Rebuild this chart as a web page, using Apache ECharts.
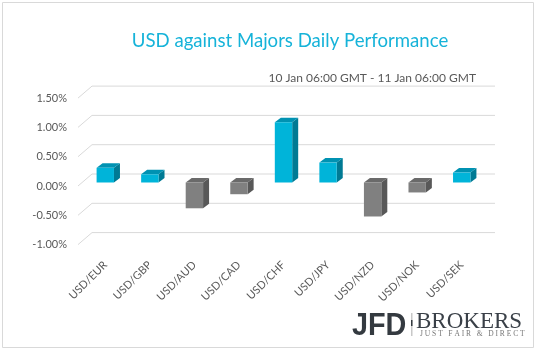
<!DOCTYPE html>
<html>
<head>
<meta charset="utf-8">
<script src="https://cdn.jsdelivr.net/npm/echarts@6/dist/echarts.min.js"></script>
<style>
  html, body { margin: 0; padding: 0; background: #fff; }
  #chart { width: 538px; height: 351px; }
</style>
</head>
<body>
<div id="chart"></div>
<script>
const categories = ["USD/EUR", "USD/GBP", "USD/AUD", "USD/CAD", "USD/CHF", "USD/JPY", "USD/NZD", "USD/NOK", "USD/SEK"];
const values = [0.25, 0.14, -0.44, -0.2, 1.03, 0.34, -0.58, -0.17, 0.17];
const yTicks = [-1, -0.5, 0, 0.5, 1, 1.5];

// 3d look: depth offsets of the bar box and of the back/front walls
const barDx = 6, barDy = -4.5;
const backDx = 9, backDy = -8.5;
const frontDx = -5, frontDy = 3.5;

const up = { front: "#00b4d9", top: "#0092b2", side: "#007a94" };
const down = { front: "#808080", top: "#6a6a6a", side: "#585858" };

const chart = echarts.init(document.getElementById("chart"));

function renderBar(params, api) {
  const i = api.value(0);
  const v = api.value(1);
  const p0 = api.coord([i, 0]);
  const p1 = api.coord([i, v]);
  const w = api.size([1, 0])[0] * 0.39;
  const x0 = p0[0] - w / 2;
  const x1 = p0[0] + w / 2;
  const yTop = Math.min(p0[1], p1[1]);
  const yBot = Math.max(p0[1], p1[1]);
  const c = v >= 0 ? up : down;
  return {
    type: "group",
    children: [
      {
        type: "polygon",
        shape: { points: [[x1, yTop], [x1 + barDx, yTop + barDy], [x1 + barDx, yBot + barDy], [x1, yBot]] },
        style: { fill: c.side },
      },
      {
        type: "polygon",
        shape: { points: [[x0, yTop], [x1, yTop], [x1 + barDx, yTop + barDy], [x0 + barDx, yTop + barDy]] },
        style: { fill: c.top },
      },
      {
        type: "rect",
        shape: { x: x0, y: yTop, width: w, height: yBot - yTop },
        style: { fill: c.front },
      },
    ],
  };
}

// gridline on the back wall, slanted edge on the side wall, tick label on the front
function renderGrid(params, api) {
  const cs = params.coordSys;
  const v = api.value(1);
  const y = api.coord([0, v])[1];
  return {
    type: "group",
    children: [
      {
        type: "line",
        shape: { x1: cs.x + frontDx, y1: y + frontDy, x2: cs.x + backDx, y2: y + backDy },
        style: { stroke: "#d9d9d9", lineWidth: 1 },
      },
      {
        type: "line",
        shape: { x1: cs.x + backDx, y1: y + backDy, x2: cs.x + cs.width + 11, y2: y + backDy },
        style: { stroke: "#d9d9d9", lineWidth: 1 },
      },
      {
        type: "text",
        x: cs.x - 16,
        y: y + frontDy,
        style: {
          text: v.toFixed(2) + "%",
          align: "right",
          verticalAlign: "middle",
          fill: "#595959",
          font: "11px Lato",
        },
      },
    ],
  };
}

chart.setOption({
  animation: false,
  title: [
    {
      text: "USD against Majors Daily Performance",
      left: 285,
      top: 26,
      textAlign: "center",
      textStyle: { color: "#16b3d9", fontSize: 18.6, fontWeight: "normal", fontFamily: "Lato" },
    },
    {
      text: "10 Jan 06:00 GMT - 11 Jan 06:00 GMT",
      right: 57,
      top: 67,
      textStyle: { color: "#595959", fontSize: 12, fontWeight: "normal", fontFamily: "Lato" },
    },
  ],
  grid: { left: 83, right: 54, top: 94.6, bottom: 109.9 },
  xAxis: {
    type: "category",
    data: categories,
    axisLine: { show: false },
    axisTick: { show: false },
    axisLabel: { rotate: 45, color: "#595959", fontSize: 11, fontFamily: "Lato", margin: 22, interval: 0 },
  },
  yAxis: {
    type: "value",
    min: -1,
    max: 1.5,
    interval: 0.5,
    splitLine: { show: false },
    axisLine: { show: false },
    axisTick: { show: false },
    axisLabel: { show: false },
  },
  series: [
    {
      type: "custom",
      renderItem: renderGrid,
      data: yTicks.map((v) => [0, v]),
      silent: true,
      z: 1,
    },
    {
      type: "custom",
      renderItem: renderBar,
      data: values.map((v, i) => [i, v]),
      z: 2,
    },
  ],
  graphic: [
    {
      type: "rect",
      shape: { x: 2.5, y: 2.5, width: 531, height: 345 },
      style: { fill: null, stroke: "#d9d9d9", lineWidth: 1 },
      silent: true,
    },
    {
      type: "text",
      x: 352,
      y: 310,
      scaleX: 0.9,
      style: { text: "JFD", font: "bold 32px 'Liberation Sans'", fill: "#343a40" },
    },
    {
      type: "rect",
      shape: { x: 411, y: 313, width: 1.5, height: 23 },
      style: { fill: "#c8c8c8" },
    },
    {
      type: "rect",
      shape: { x: 411, y: 320, width: 1.5, height: 6 },
      style: { fill: "#343a40" },
    },
    {
      type: "text",
      x: 416,
      y: 310,
      style: { text: "BROKERS", font: "23px 'Liberation Serif'", fill: "#3a4048" },
    },
    {
      type: "text",
      x: 420,
      y: 330,
      style: { text: "J U S T   F A I R   &   D I R E C T", font: "7.5px 'Liberation Serif'", fill: "#777" },
    },
  ],
});
</script>
</body>
</html>
